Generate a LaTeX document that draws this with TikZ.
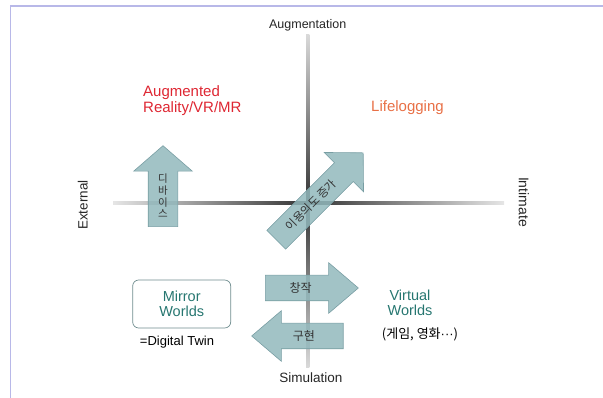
\documentclass[tikz,border=0pt]{standalone}
\usepackage{fontspec}
\setmainfont{Liberation Sans}
\newfontfamily\kr{Noto Sans CJK KR}
\usetikzlibrary{shapes.arrows,calc}

\definecolor{arrowfill}{RGB}{146,184,188}
\definecolor{arrowline}{RGB}{120,158,163}
\definecolor{arred}{RGB}{222,38,50}
\definecolor{logorange}{RGB}{232,112,70}
\definecolor{worldteal}{RGB}{38,118,112}
\definecolor{boxline}{RGB}{110,140,142}
\definecolor{framecol}{RGB}{184,184,232}

\begin{document}
\begin{tikzpicture}[x=1pt,y=-1pt]
  % Parameters
  \def\cx{307.7}
  \def\cy{203}
  \def\axw{1.6}

  \tikzset{
    blockarrow/.style={single arrow, fill=arrowfill, fill opacity=0.85,
      draw=arrowline, line width=0.6pt, inner xsep=0pt, minimum width=0pt,
      single arrow head indent=0pt, anchor=tail},
    axislabel/.style={font=\fontsize{13.5}{15}\selectfont, text=black!85, inner sep=0pt},
    hangul/.style={font=\kr\fontsize{11}{12}\selectfont, text=black!80, inner sep=0pt},
    world/.style={font=\fontsize{14.5}{15}\selectfont, text=worldteal, align=center, inner sep=0pt}
  }

  \useasboundingbox (0,0) rectangle (603,398);

  % Frame
  \draw[draw=framecol, line width=1.2pt] (10.8,398) -- (10.8,6) -- (603,6);

  % Axes, faded toward the ends
  \shade[top color=black!15, bottom color=black!80] (\cx-\axw,35) rectangle (\cx+\axw,\cy);
  \shade[top color=black!80, bottom color=black!15] (\cx-\axw,\cy) rectangle (\cx+\axw,367);
  \shade[left color=black!10, right color=black!80] (113,\cy-\axw) rectangle (\cx,\cy+\axw);
  \shade[left color=black!80, right color=black!10] (\cx,\cy-\axw) rectangle (504,\cy+\axw);

  % Axis labels
  \node[axislabel, font=\fontsize{12.5}{15}\selectfont] (aug) at (\cx,25) {Augmentation};
  \node[axislabel] (sim) at (310.8,377.7) {Simulation};
  \node[axislabel, rotate=90] (ext) at (82.7,205) {External};
  \node[axislabel, rotate=-90, font=\fontsize{14}{15}\selectfont] (intim) at (523.8,202) {Intimate};

  % Quadrant titles
  \node[font=\fontsize{15}{16}\selectfont, text=arred, align=left, anchor=west, inner sep=0pt] (ar) at (143,101) {Augmented\\Reality/VR/MR};
  \node[font=\fontsize{15}{16}\selectfont, text=logorange, anchor=west, inner sep=0pt] (life) at (371,108) {Lifelogging};

  % Worlds
  \node[world, draw=boxline, line width=0.7pt, rounded corners=6pt,
    minimum width=98pt, minimum height=48pt] (mirror) at (181.7,304) {Mirror\\Worlds};
  \node[font=\fontsize{13}{15}\selectfont, inner sep=0pt] (twin) at (177,342) {=Digital Twin};
  \node[world] (virtual) at (410,303) {Virtual\\Worlds};
  \node[hangul, font=\kr\fontsize{13}{15}\selectfont, text=black] (genre) at (420,334) {(게임, 영화\textrm{···})};

  % Block arrows
  \node[blockarrow, rotate=90, minimum height=81pt, inner ysep=14.5pt,
    single arrow head extend=14.5pt, single arrow tip angle=98] (device) at (163,227) {};
  \node[blockarrow, rotate=45, minimum height=123pt, inner ysep=13pt,
    single arrow head extend=14.5pt, single arrow tip angle=91] (usage) at (276,240) {};
  \node[blockarrow, minimum height=93pt, inner ysep=12.5pt,
    single arrow head extend=12.5pt, single arrow tip angle=81] (create) at (265,288) {};
  \node[blockarrow, rotate=180, minimum height=91.5pt, inner ysep=12.5pt,
    single arrow head extend=12.5pt, single arrow tip angle=81] (build) at (343.5,336) {};

  % Arrow texts
  \node[hangul, align=center, font=\kr\fontsize{10.5}{11.7}\selectfont] (devtext)
    at ($(device.tail)!0.38!(device.tip)$) {디\\바\\이\\스};
  \node[hangul, rotate=45, font=\kr\fontsize{11.5}{12}\selectfont] (usagetext)
    at ($(usage.tail)!0.4!(usage.tip)$) {이용의도 증가};
  \node[hangul, font=\kr\fontsize{12}{14}\selectfont] (createtext)
    at ($(create.tail)!0.38!(create.tip)$) {창작};
  \node[hangul, font=\kr\fontsize{12}{14}\selectfont] (buildtext)
    at ($(build.tail)!0.43!(build.tip)$) {구현};
\end{tikzpicture}
\end{document}
